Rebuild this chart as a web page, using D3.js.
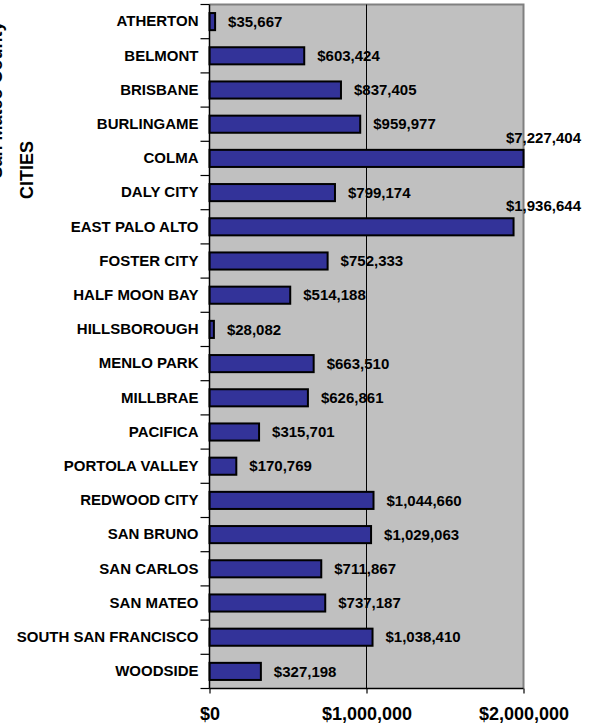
<!DOCTYPE html>
<html><head><meta charset="utf-8">
<script src="https://cdn.jsdelivr.net/npm/d3@7"></script>
<style>body{margin:0;background:#fff}svg{display:block}text{font-family:"Liberation Sans",Arial,sans-serif;font-weight:bold;fill:#000}</style>
</head><body>
<svg id="c" width="592" height="725"></svg>
<script>
const cities = ["ATHERTON","BELMONT","BRISBANE","BURLINGAME","COLMA","DALY CITY","EAST PALO ALTO","FOSTER CITY","HALF MOON BAY","HILLSBOROUGH","MENLO PARK","MILLBRAE","PACIFICA","PORTOLA VALLEY","REDWOOD CITY","SAN BRUNO","SAN CARLOS","SAN MATEO","SOUTH SAN FRANCISCO","WOODSIDE"];
const values = [35667,603424,837405,959977,7227404,799174,1936644,752333,514188,28082,663510,626861,315701,170769,1044660,1029063,711867,737187,1038410,327198];
const xTicks = [0,1000000,2000000];
const titleLines = ["San Mateo County","CITIES"];

const svg = d3.select("#c");
const L = 209.5, R = 523.5, T = 4.5, B = 688.5;
const x = d3.scaleLinear().domain([0,2000000]).range([L,R]);
const y = d3.scaleBand().domain(cities).range([T,B]).paddingInner(0.5).paddingOuter(0.25);
const money = v => "$" + d3.format(",")(v);

// plot background
svg.append("rect").attr("x",L).attr("y",T).attr("width",R-L).attr("height",B-T).attr("fill","#c0c0c0");
// top & right gray border
svg.append("path").attr("d",`M${L},${T}H${R}V${B}`).attr("fill","none").attr("stroke","#808080").attr("stroke-width",2);
// gridline
svg.append("g").selectAll("line").data(xTicks.slice(1,-1)).join("line")
  .attr("x1",d=>x(d)).attr("x2",d=>x(d)).attr("y1",T).attr("y2",B)
  .attr("stroke","#000").attr("stroke-width",1);

// bars
svg.append("g").selectAll("rect").data(values).join("rect")
  .attr("x",L).attr("y",(d,i)=>y(cities[i]))
  .attr("width",d=>Math.min(x(d),R)-L).attr("height",y.bandwidth())
  .attr("fill","#333399").attr("stroke","#000").attr("stroke-width",2);

// left axis
const yAxis = d3.axisLeft(y).tickSize(0).tickPadding(11);
const gy = svg.append("g").attr("transform",`translate(${L},0)`).call(yAxis);
gy.select(".domain").remove();
gy.selectAll("text").style("font-size","15px").style("font-family",'"Liberation Sans",Arial,sans-serif').style("font-weight","bold").attr("fill","#000");
// band boundary ticks
const bounds = d3.range(cities.length+1).map(i=>T + i*y.step());
svg.append("g").selectAll("line").data(bounds).join("line")
  .attr("x1",L-9).attr("x2",L).attr("y1",d=>d).attr("y2",d=>d).attr("stroke","#000").attr("stroke-width",1.2);
svg.append("line").attr("x1",L).attr("x2",L).attr("y1",T).attr("y2",B).attr("stroke","#000").attr("stroke-width",1.5);

// bottom axis
const xAxis = d3.axisBottom(x).tickValues(xTicks).tickFormat(money).tickSize(5).tickPadding(14);
const gx = svg.append("g").attr("transform",`translate(0,${B})`).call(xAxis);
gx.select(".domain").attr("d",`M${L},0H${R}`).attr("stroke","#000").attr("stroke-width",1.5);
gx.selectAll(".tick line").attr("stroke","#000").attr("stroke-width",1.2);
gx.selectAll("text").style("font-size","18px").style("font-family",'"Liberation Sans",Arial,sans-serif').style("font-weight","bold").attr("fill","#000");

// value labels
const gl = svg.append("g");
values.forEach((v,i)=>{
  const cy = y(cities[i]) + y.bandwidth()/2;
  const end = Math.min(x(v),R);
  const t = gl.append("text").text(money(v)).attr("font-size",15).attr("dy","0.35em")
    .attr("x",end+13).attr("y",cy);
  const w = t.node().getComputedTextLength();
  if (end + 13 + w > 588) {
    t.attr("text-anchor","end").attr("x",581).attr("y",cy-21);
  }
});

// axis title
const tg = svg.append("g");
tg.append("text").text(titleLines[0]).attr("font-size",18).attr("text-anchor","middle")
  .attr("transform","translate(2,100) rotate(-90)");
tg.append("text").text(titleLines[1]).attr("font-size",18).attr("text-anchor","middle")
  .attr("transform","translate(33,170) rotate(-90)");
</script>
</body></html>
